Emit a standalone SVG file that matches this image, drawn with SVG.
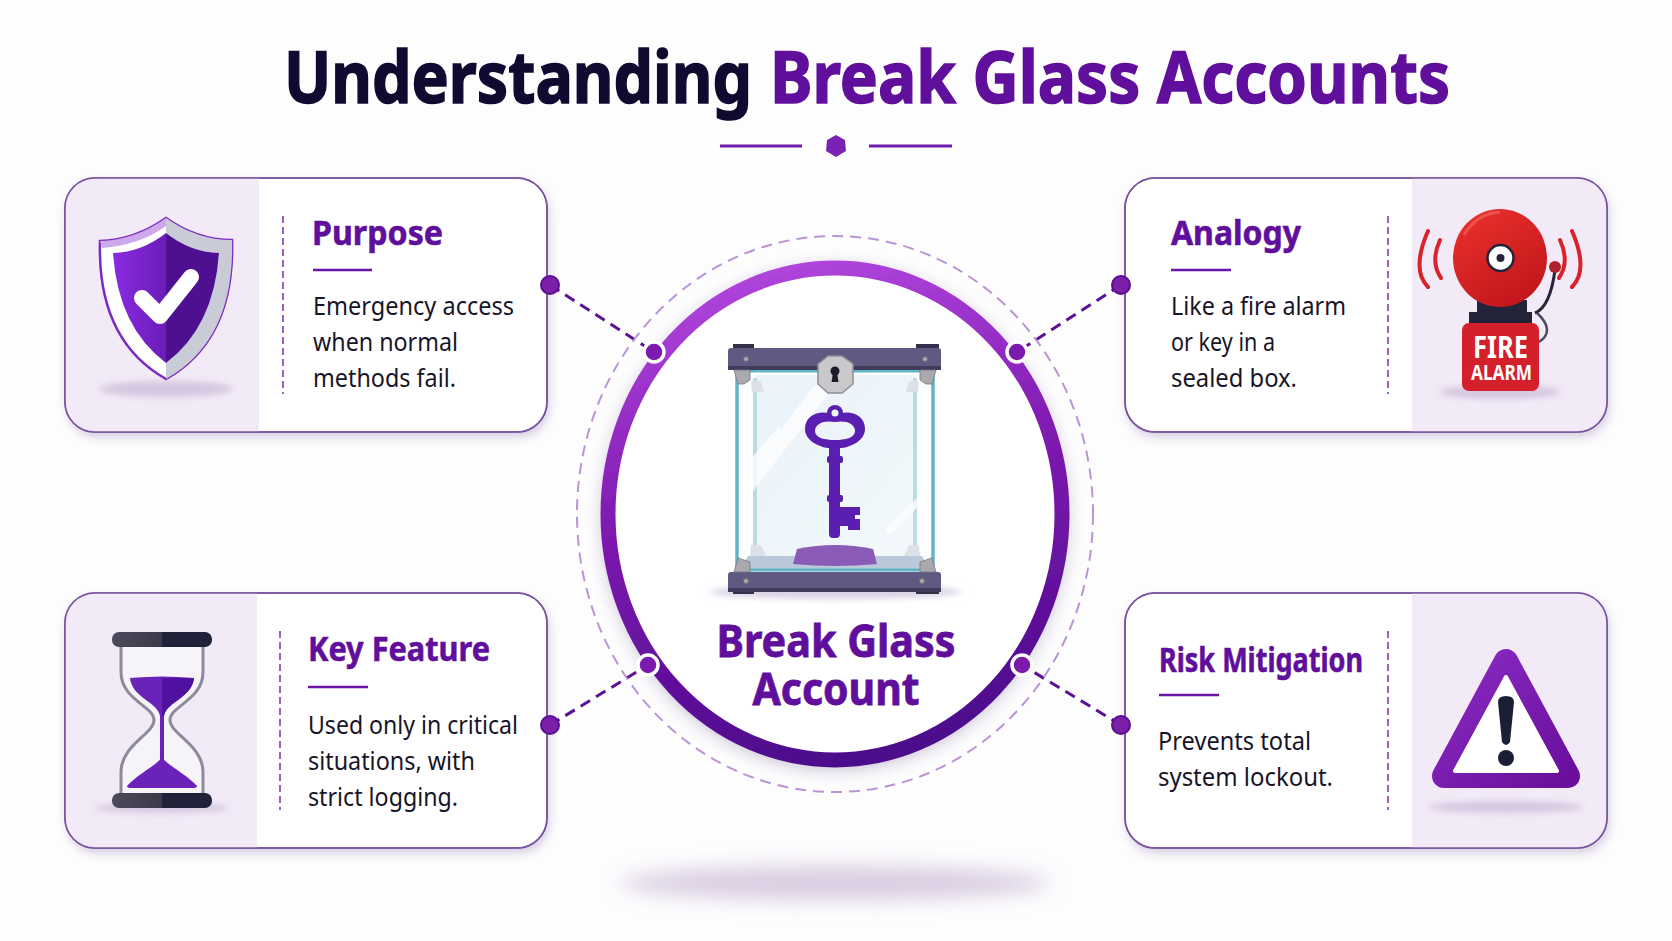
<svg xmlns="http://www.w3.org/2000/svg" width="1672" height="941" viewBox="0 0 1672 941">
<defs>
<style>
text{font-family:"Noto Sans","Open Sans","Liberation Sans",sans-serif}
.t{font-size:72px;font-weight:700;stroke-width:1.600;paint-order:stroke}
.h{font-size:34px;font-weight:700;fill:#5f0f9c;stroke:#5f0f9c;stroke-width:.6}
.b{font-size:25px;fill:#181528}
.card{fill:#fff;stroke:#7a549f;stroke-width:1.600;filter:url(#cs)}
.edge{fill:none;stroke:#7a549f;stroke-width:1.600}
.panel{fill:#f2eaf7}
.ul{stroke:#6a14a8;stroke-width:2.500}
.vd{stroke:#9a62c2;stroke-width:2;stroke-dasharray:7 4;fill:none}
.sh{fill:#c9b8d6;opacity:.7;filter:url(#bl)}
.dot{fill:#7a1fa8;stroke:#5a0e90;stroke-width:2}
.rd{fill:#7c1aae;stroke:#fff;stroke-width:3.500}
.cn{stroke:#5c1094;stroke-width:3;stroke-dasharray:11 7;fill:none}
.kp{fill:#a9a9ae;stroke:#6f6f78;stroke-width:1}
</style>
<filter id="cs" x="-5%" y="-5%" width="110%" height="115%"><feDropShadow dx="2" dy="5" stdDeviation="4" flood-color="#5a3a80" flood-opacity=".22"/></filter>
<filter id="bl" x="-20%" y="-100%" width="140%" height="300%"><feGaussianBlur stdDeviation="3"/></filter>
<filter id="bl2" x="-20%" y="-100%" width="140%" height="300%"><feGaussianBlur stdDeviation="10"/></filter>
<filter id="rs" x="-10%" y="-10%" width="120%" height="120%"><feDropShadow dx="0" dy="4" stdDeviation="7" flood-color="#4a2a70" flood-opacity=".25"/></filter>
<linearGradient id="ring" x1="0.3" y1="0" x2="0.5" y2="1"><stop offset="0" stop-color="#b146de"/><stop offset=".45" stop-color="#7f1ab0"/><stop offset="1" stop-color="#4c0a8c"/></linearGradient>
<linearGradient id="shL" x1="0" y1="0" x2="1" y2="0"><stop offset="0" stop-color="#8a2be2"/><stop offset="1" stop-color="#6a1cb8"/></linearGradient>
<linearGradient id="bell" x1="0.2" y1="0" x2="0.8" y2="1"><stop offset="0" stop-color="#e8302c"/><stop offset="1" stop-color="#c0141a"/></linearGradient>
<linearGradient id="gl" x1="0" y1="0" x2="1" y2="1"><stop offset="0" stop-color="#e6f1f8"/><stop offset="1" stop-color="#f3f8fc"/></linearGradient>
<linearGradient id="tri" x1="0" y1="0" x2="1" y2="1"><stop offset="0" stop-color="#8a2bc4"/><stop offset="1" stop-color="#6a0f9c"/></linearGradient>
<linearGradient id="bar" x1="0" y1="0" x2="1" y2="0"><stop offset="0" stop-color="#4a4a5a"/><stop offset=".5" stop-color="#3a3a4a"/><stop offset=".5" stop-color="#20223a"/><stop offset="1" stop-color="#20223a"/></linearGradient>
<clipPath id="cTL"><rect x="65" y="178" width="482" height="254" rx="30"/></clipPath>
<clipPath id="cTR"><rect x="1125" y="178" width="482" height="254" rx="30"/></clipPath>
<clipPath id="cBL"><rect x="65" y="593" width="482" height="255" rx="30"/></clipPath>
<clipPath id="cBR"><rect x="1125" y="593" width="482" height="255" rx="30"/></clipPath>
</defs>
<rect width="1672" height="941" fill="#fdfdfe"/>
<g id="title">
<text class="t" x="284" y="103" fill="#100a30" stroke="#100a30" textLength="468" lengthAdjust="spacingAndGlyphs">Understanding</text>
<text class="t" x="770" y="103" fill="#5f0f9c" stroke="#5f0f9c" textLength="680" lengthAdjust="spacingAndGlyphs">Break Glass Accounts</text>
<path d="M720 146H802M869 146H952" stroke="#6f1cae" stroke-width="3"/>
<polygon points="836,135 845,140 846,151 836,157 826,151 827,140" fill="#7a22b4"/>
</g>
<ellipse cx="835" cy="883" rx="215" ry="17" fill="#cdbcd8" opacity=".75" filter="url(#bl2)"/>
<g id="connectors">
<path class="cn" d="M550 285L654 352M1121 285L1017 352M550 725L648 665M1121 725L1022 665"/>
</g>
<g id="center">
<ellipse cx="835" cy="514" rx="258" ry="278" fill="none" stroke="#bb94d6" stroke-width="2" stroke-dasharray="11 7"/>
<ellipse cx="835" cy="514" rx="227" ry="246" fill="#fff" stroke="url(#ring)" stroke-width="15" filter="url(#rs)"/>
<circle class="rd" cx="654" cy="352" r="10"/><circle class="rd" cx="1017" cy="352" r="10"/><circle class="rd" cx="648" cy="665" r="10"/><circle class="rd" cx="1022" cy="665" r="10"/>
<ellipse cx="835" cy="592" rx="127" ry="7" fill="#d9d2e4" filter="url(#bl)"/>
<rect x="755" y="375" width="160" height="182" fill="url(#gl)"/>
<path d="M755 378V556M915 378V556" stroke="#a5d0da" stroke-width="4"/>
<path d="M737 372H933V572H737Z" fill="#f2f8fc" fill-opacity=".3"/>
<path d="M737 372V572M933 372V572" stroke="#63b5c6" stroke-width="3.500"/>
<path d="M740 370H930" stroke="#63b5c6" stroke-width="5"/>
<path d="M742 480L815 385H835L746 500ZM750 460L780 425V440L752 475ZM885 530L925 490V500L890 535Z" fill="#fff" opacity=".75"/>
<path d="M748 556H922L930 570H740Z" fill="#b9c9d9"/>
<path d="M745 570H925" stroke="#63b5c6" stroke-width="3"/>
<path d="M793 564L797 549Q835 541 873 549L877 564Q835 568 793 564Z" fill="#8a5cb8"/>
<path d="M751 545H761L766 556H750ZM919 545H909L904 556H920ZM751 381H761L764 392H752ZM919 381H909L906 392H918Z" fill="#dde0e6"/>
<path d="M733 344H754V350H733ZM916 344H939V350H916ZM733 590H754V594H733ZM916 590H939V594H916Z" fill="#33304a"/>
<rect x="728" y="348" width="213" height="22" rx="3" fill="#5e5a82"/>
<rect x="728" y="572" width="213" height="20" rx="3" fill="#5e5a82"/>
<path d="M728 366H941V370H728ZM728 588H941V592H728Z" fill="#3f3c5c"/>
<circle class="kp" cx="746" cy="359" r="2.500"/><circle class="kp" cx="925" cy="359" r="2.500"/><circle class="kp" cx="746" cy="581" r="2.500"/><circle class="kp" cx="922" cy="581" r="2.500"/>
<path d="M734 370H750V380L744 384H738ZM936 370H920V380L926 384H932ZM734 572H750V562L738 558ZM936 572H920V562L932 558Z" fill="#a9a9ae" stroke="#77777f" stroke-width=".8"/>
<polygon points="828,356 842,356 853,364 853,384 842,393 828,393 818,384 818,364" fill="#c9c9cc" stroke="#8d8d92" stroke-width="1.500"/>
<circle cx="835" cy="371" r="4.500" fill="#1d1a2c"/><path d="M833 373H837L838.500 382H831.500Z" fill="#1d1a2c"/>
<g fill="#5a1fb0">
<path fill-rule="evenodd" d="M835 417C842 409 865 411 865 429C865 441 850 447 842 448H828C820 447 805 441 805 429C805 411 828 409 835 417ZM835 422C825 420 815 423 815 431C815 438 825 440 835 440C845 440 855 438 855 431C855 423 845 420 835 422Z"/>
<circle cx="835" cy="413" r="8"/>
<rect x="829" y="445" width="11" height="93" rx="4"/>
<rect x="827" y="456" width="16" height="7" rx="2"/>
<rect x="827" y="495" width="16" height="7" rx="2"/>
<path d="M838 507H860V515H855V519H860V530H848V526H838Z"/>
</g>
<circle cx="835" cy="413" r="3.500" fill="#eef6fb"/>
<text x="836" y="657" text-anchor="middle" font-size="44" font-weight="700" fill="#5f0f9c" stroke="#5f0f9c" stroke-width=".8" textLength="239" lengthAdjust="spacingAndGlyphs">Break Glass</text>
<text x="836" y="705" text-anchor="middle" font-size="44" font-weight="700" fill="#5f0f9c" stroke="#5f0f9c" stroke-width=".8" textLength="167" lengthAdjust="spacingAndGlyphs">Account</text>
</g>
<g id="purpose">
<rect class="card" x="65" y="178" width="482" height="254" rx="30"/>
<rect class="panel" x="65" y="178" width="194" height="254" clip-path="url(#cTL)"/>
<rect class="edge" x="65" y="178" width="482" height="254" rx="30"/>
<ellipse class="sh" cx="166" cy="389" rx="67" ry="8"/>
<path d="M166 218Q135 240 100 241Q97 340 166 379Q235 340 232 240Q197 240 166 218Z" fill="#fff" stroke="#7a2bc0" stroke-width="2.500"/>
<path d="M166 218Q135 240 100 241L102 248Q140 245 166 226Z" fill="#cda9ec"/>
<path d="M166 218Q197 240 232 240Q235 340 166 379V363Q214 327 219 253Q190 252 166 233Z" fill="#c9cbd6"/>
<path d="M166 233Q142 252 113 253Q118 327 166 363Z" fill="url(#shL)"/>
<path d="M166 233Q190 252 219 253Q214 327 166 363Z" fill="#4e0f90"/>
<path d="M142 298L160 316L191 277" fill="none" stroke="#fff" stroke-width="16" stroke-linecap="round" stroke-linejoin="round"/>
<line class="vd" x1="283" y1="216" x2="283" y2="394"/>
<text class="h" x="312" y="245" textLength="131" lengthAdjust="spacingAndGlyphs">Purpose</text>
<line class="ul" x1="313" y1="270" x2="372" y2="270"/>
<text class="b" x="313" y="315" textLength="201" lengthAdjust="spacingAndGlyphs">Emergency access</text>
<text class="b" x="313" y="351" textLength="145" lengthAdjust="spacingAndGlyphs">when normal</text>
<text class="b" x="313" y="387" textLength="143" lengthAdjust="spacingAndGlyphs">methods fail.</text>
<circle class="dot" cx="550" cy="285" r="9"/>
</g>
<g id="analogy">
<rect class="card" x="1125" y="178" width="482" height="254" rx="30"/>
<rect class="panel" x="1412" y="178" width="195" height="254" clip-path="url(#cTR)"/>
<rect class="edge" x="1125" y="178" width="482" height="254" rx="30"/>
<ellipse class="sh" cx="1500" cy="392" rx="60" ry="7"/>
<path d="M1428 231Q1411 270 1428 287M1440 240Q1430 262 1441 278M1560 240Q1570 262 1559 278M1572 231Q1589 270 1572 287" fill="none" stroke="#d9232c" stroke-width="4" stroke-linecap="round"/>
<path d="M1535 313C1548 308 1553 285 1555 270" fill="none" stroke="#23243a" stroke-width="3"/>
<path d="M1537 313C1550 325 1550 335 1539 342" fill="none" stroke="#4a4a60" stroke-width="2.500"/>
<circle cx="1555" cy="267" r="6" fill="#b02028"/>
<path d="M1477 300H1527V312H1532V326H1469V312H1477Z" fill="#23243a"/>
<ellipse cx="1500" cy="258" rx="47" ry="49" fill="url(#bell)"/>
<path d="M1464 235A44 46 0 0 1 1500 212" fill="none" stroke="#f2625c" stroke-width="3" opacity=".7"/>
<circle cx="1500.500" cy="258" r="13" fill="#fff" stroke="#23243a" stroke-width="2.500"/>
<circle cx="1500.500" cy="258" r="4" fill="#23243a"/>
<rect x="1462" y="323" width="77" height="68" rx="7" fill="#d4202a"/>
<text x="1500.500" y="358" text-anchor="middle" font-size="30" font-weight="700" fill="#fff" textLength="55" lengthAdjust="spacingAndGlyphs">FIRE</text>
<text x="1501.500" y="380" text-anchor="middle" font-size="21" font-weight="700" fill="#fff" textLength="61" lengthAdjust="spacingAndGlyphs">ALARM</text>
<line class="vd" x1="1388" y1="216" x2="1388" y2="394"/>
<text class="h" x="1171" y="245" textLength="130" lengthAdjust="spacingAndGlyphs">Analogy</text>
<line class="ul" x1="1171" y1="270" x2="1231" y2="270"/>
<text class="b" x="1171" y="315" textLength="175" lengthAdjust="spacingAndGlyphs">Like a fire alarm</text>
<text class="b" x="1171" y="351" textLength="104" lengthAdjust="spacingAndGlyphs">or key in a</text>
<text class="b" x="1171" y="387" textLength="126" lengthAdjust="spacingAndGlyphs">sealed box.</text>
<circle class="dot" cx="1121" cy="285" r="9"/>
</g>
<g id="key-feature">
<rect class="card" x="65" y="593" width="482" height="255" rx="30"/>
<rect class="panel" x="65" y="593" width="192" height="255" clip-path="url(#cBL)"/>
<rect class="edge" x="65" y="593" width="482" height="255" rx="30"/>
<ellipse class="sh" cx="162" cy="808" rx="67" ry="5"/>
<path d="M121 645V672C121 700 154 706 154 720C154 734 121 745 121 772V796H203V772C203 745 170 734 170 720C170 706 203 700 203 672V645Z" fill="#f6f3f9" stroke="#8d8a9c" stroke-width="3"/>
<path d="M130 678Q162 675 194 678C192 698 166 702 164 716V760H160V716C158 702 132 698 130 678Z" fill="#6a22b8"/>
<path d="M162 678H194C192 698 166 702 164 716H162Z" fill="#5010a0"/>
<path d="M162 758C172 768 187 775 197 786Q197 788 192 788H132Q127 788 127 786C137 775 152 768 162 758Z" fill="#6a22b8"/>
<rect x="112" y="632" width="100" height="15" rx="7" fill="url(#bar)"/>
<rect x="112" y="793" width="100" height="15" rx="7" fill="url(#bar)"/>
<line class="vd" x1="280" y1="631" x2="280" y2="810"/>
<text class="h" x="308" y="661" textLength="182" lengthAdjust="spacingAndGlyphs">Key Feature</text>
<line class="ul" x1="308" y1="687" x2="368" y2="687"/>
<text class="b" x="308" y="734" textLength="210" lengthAdjust="spacingAndGlyphs">Used only in critical</text>
<text class="b" x="308" y="770" textLength="167" lengthAdjust="spacingAndGlyphs">situations, with</text>
<text class="b" x="308" y="806" textLength="150" lengthAdjust="spacingAndGlyphs">strict logging.</text>
<circle class="dot" cx="550" cy="725" r="9"/>
</g>
<g id="risk-mitigation">
<rect class="card" x="1125" y="593" width="482" height="255" rx="30"/>
<rect class="panel" x="1412" y="593" width="195" height="255" clip-path="url(#cBR)"/>
<rect class="edge" x="1125" y="593" width="482" height="255" rx="30"/>
<ellipse class="sh" cx="1506" cy="807" rx="78" ry="6"/>
<path d="M1506 661L1568 776H1444Z" fill="url(#tri)" stroke="url(#tri)" stroke-width="24" stroke-linejoin="round"/>
<path d="M1506 677L1557 771H1455Z" fill="#fff" stroke="#fff" stroke-width="4" stroke-linejoin="round"/>
<path d="M1498 702Q1498 696 1506 696Q1514 696 1514 702L1510 742Q1506 748 1502 742Z" fill="#1c1e36"/>
<circle cx="1506" cy="758" r="8" fill="#1c1e36"/>
<line class="vd" x1="1388" y1="631" x2="1388" y2="810"/>
<text class="h" x="1159" y="672" textLength="204" lengthAdjust="spacingAndGlyphs">Risk Mitigation</text>
<line class="ul" x1="1159" y1="695" x2="1219" y2="695"/>
<text class="b" x="1158" y="750" textLength="153" lengthAdjust="spacingAndGlyphs">Prevents total</text>
<text class="b" x="1158" y="786" textLength="175" lengthAdjust="spacingAndGlyphs">system lockout.</text>
<circle class="dot" cx="1121" cy="725" r="9"/>
</g>
</svg>
